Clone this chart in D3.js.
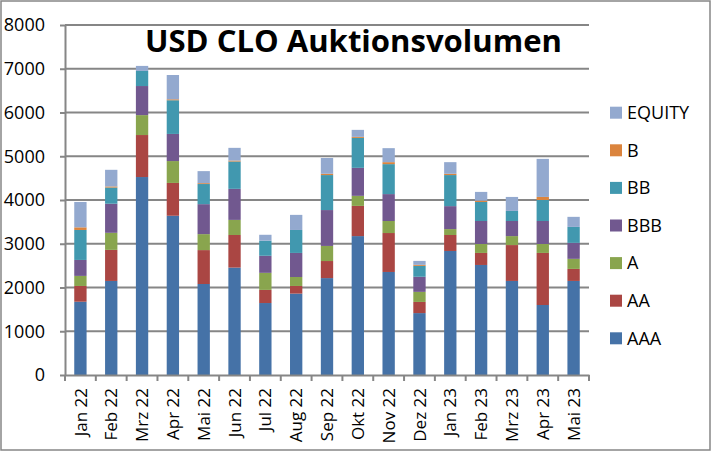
<!DOCTYPE html>
<html>
<head>
<meta charset="utf-8">
<script src="https://cdn.jsdelivr.net/npm/d3@7"></script>
<style>
  html, body { margin: 0; padding: 0; background: #fff; }
  svg { display: block; }
  text { font-family: "Open Sans", "Noto Sans", sans-serif; fill: #000; }
</style>
</head>
<body>
<svg id="chart" width="712" height="452"></svg>
<script>
const categories = ["Jan 22","Feb 22","Mrz 22","Apr 22","Mai 22","Jun 22","Jul 22","Aug 22","Sep 22","Okt 22","Nov 22","Dez 22","Jan 23","Feb 23","Mrz 23","Apr 23","Mai 23"];
const seriesNames = ["AAA","AA","A","BBB","BB","B","EQUITY"];
const AAA    = [1675, 2150, 4525, 3640, 2080, 2455, 1645, 1860, 2215, 3175, 2355, 1415, 2835, 2515, 2150, 1600, 2150];
const AA     = [360, 710, 960, 750, 775, 745, 300, 175, 390, 690, 890, 255, 365, 275, 820, 1190, 275];
const A      = [230, 390, 455, 500, 365, 345, 390, 205, 345, 230, 275, 230, 135, 205, 205, 205, 230];
const BBB    = [365, 665, 665, 620, 685, 710, 390, 550, 820, 640, 615, 345, 525, 525, 345, 525, 365];
const BB     = [685, 370, 345, 770, 460, 625, 345, 525, 800, 685, 685, 250, 710, 435, 230, 480, 365];
const B      = [60, 25, 0, 22, 20, 22, 0, 0, 30, 23, 45, 23, 30, 30, 0, 70, 0];
const EQUITY = [580, 380, 115, 555, 275, 290, 135, 345, 360, 160, 320, 90, 265, 200, 320, 870, 230];
const yTicks = [0, 1000, 2000, 3000, 4000, 5000, 6000, 7000, 8000];
const title = "USD CLO Auktionsvolumen";

const colors = {AAA:"#4572A7", AA:"#AA4643", A:"#89A54E", BBB:"#71588F", BB:"#4198AF", B:"#DB843D", EQUITY:"#93A9CF"};
const seriesData = {AAA, AA, A, BBB, BB, B, EQUITY};

const rows = categories.map((c, i) => {
  const r = {cat: c};
  seriesNames.forEach(s => r[s] = seriesData[s][i]);
  return r;
});

const svg = d3.select("#chart");
const grey = "#868686";

// outer border
svg.append("rect").attr("x", 1).attr("y", 1).attr("width", 709).attr("height", 449)
  .attr("fill", "#fff").attr("stroke", grey).attr("stroke-width", 1.5);

const pLeft = 65, pRight = 589, pTop = 25, pBottom = 375;

const x = d3.scaleBand().domain(categories).range([pLeft, pRight]).paddingInner(0.6).paddingOuter(0.3);
const y = d3.scaleLinear().domain([0, 8000]).range([pBottom, pTop]);

// gridlines
svg.append("g").selectAll("line").data(yTicks.filter(v => v > 0)).join("line")
  .attr("x1", pLeft).attr("x2", pRight).attr("y1", d => y(d)).attr("y2", d => y(d))
  .attr("stroke", grey).attr("stroke-width", 2);

// bars
const stack = d3.stack().keys(seriesNames)(rows);
svg.append("g").selectAll("g").data(stack).join("g")
  .attr("fill", d => colors[d.key])
  .selectAll("rect").data(d => d).join("rect")
  .attr("x", d => x(d.data.cat))
  .attr("width", x.bandwidth())
  .attr("y", d => y(d[1]))
  .attr("height", d => Math.max(0, y(d[0]) - y(d[1])));

// y axis
const yAxis = svg.append("g").attr("transform", `translate(${pLeft},0)`)
  .call(d3.axisLeft(y).tickValues(yTicks).tickFormat(d3.format("d")).tickSize(5).tickPadding(15).tickSizeOuter(0));
yAxis.select(".domain").attr("stroke", grey).attr("stroke-width", 2);
yAxis.selectAll(".tick line").attr("stroke", grey).attr("stroke-width", 2);
yAxis.selectAll(".tick text").attr("font-size", 18).attr("font-family", "Open Sans").attr("fill", "#000");

// x axis
const xAxis = svg.append("g").attr("transform", `translate(0,${pBottom})`)
  .call(d3.axisBottom(x).tickSize(0).tickSizeOuter(0).tickPadding(0));
xAxis.select(".domain").attr("stroke", grey).attr("stroke-width", 2);
xAxis.selectAll(".tick text")
  .attr("font-size", 17).attr("font-family", "Open Sans").attr("fill", "#000")
  .attr("text-anchor", "end")
  .attr("transform", "translate(0,13) rotate(-90)")
  .attr("x", 0).attr("y", 0).attr("dy", "0.36em");

// boundary ticks
const step = x.step();
const boundaries = categories.map(c => x(c) - step * x.paddingInner() / 2).concat([x(categories[categories.length - 1]) + x.bandwidth() + step * x.paddingInner() / 2]);
svg.append("g").selectAll("line").data(boundaries).join("line")
  .attr("x1", d => d).attr("x2", d => d).attr("y1", pBottom).attr("y2", pBottom + 6)
  .attr("stroke", grey).attr("stroke-width", 2);

// title
svg.append("text").attr("x", 145).attr("y", 52)
  .attr("font-size", 30).attr("font-weight", "bold")
  .attr("textLength", 417).attr("lengthAdjust", "spacingAndGlyphs")
  .text(title);

// legend
const legendOrder = seriesNames.slice().reverse();
const lg = svg.append("g").selectAll("g").data(legendOrder).join("g")
  .attr("transform", (d, i) => `translate(610,${112.7 + i * 37.6})`);
lg.append("rect").attr("x", 0).attr("y", -6).attr("width", 12).attr("height", 12).attr("fill", d => colors[d]);
lg.append("text").attr("x", 17).attr("y", 0).attr("dy", "0.35em").attr("font-size", 18).text(d => d);
</script>
</body>
</html>
